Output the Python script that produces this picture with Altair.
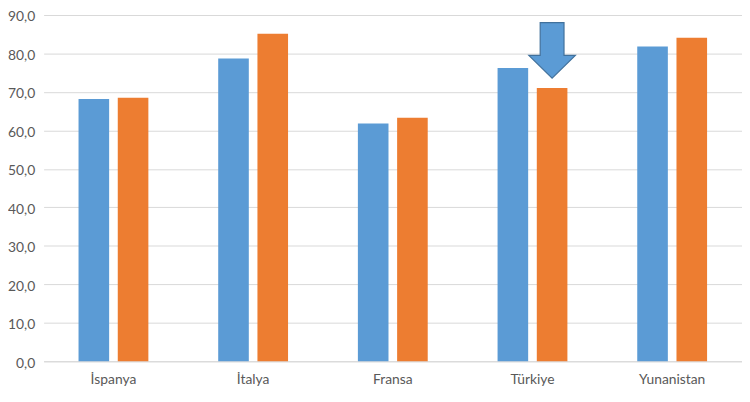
import altair as alt
import pandas as pd

countries = ["İspanya", "İtalya", "Fransa", "Türkiye", "Yunanistan"]
series_names = ["Seri 1", "Seri 2"]
values_1 = [68.2, 78.7, 61.8, 76.2, 81.8]
values_2 = [68.5, 85.1, 63.3, 71.0, 84.1]
colors = ["#5b9bd5", "#ed7d31"]
y_ticks = [0, 10, 20, 30, 40, 50, 60, 70, 80, 90]

# arrow annotation (points at Türkiye, second series)
arrow_country = ["Türkiye"]
arrow_series = ["Seri 2"]
arrow_value = [80.8]

rows = []
for c, a, b in zip(countries, values_1, values_2):
    rows.append({"ulke": c, "seri": series_names[0], "deger": a})
    rows.append({"ulke": c, "seri": series_names[1], "deger": b})
df = pd.DataFrame(rows)
arrow_df = pd.DataFrame({"ulke": arrow_country, "seri": arrow_series, "deger": arrow_value})

FONT = "Lato, Open Sans, sans-serif"

x_enc = alt.X("ulke:N", sort=countries, title=None,
              scale=alt.Scale(paddingInner=0.5, paddingOuter=0.25),
              axis=alt.Axis(labelAngle=0, ticks=False, domainColor="#d9d9d9",
                            labelColor="#595959", labelFontSize=14, labelFont=FONT,
                            labelFontWeight="normal",
                            labelPadding=12, grid=False))
y_enc = alt.Y("deger:Q", title=None,
              scale=alt.Scale(domain=[0, 90], nice=False),
              axis=alt.Axis(values=y_ticks, ticks=False, domain=False,
                            gridColor="#d9d9d9", labelColor="#595959",
                            labelFontSize=14, labelFont=FONT, labelPadding=9,
                            labelOffset=2,
                            labelOverlap=False, labelFontWeight="normal",
                            labelExpr="replace(format(datum.value, '.1f'), '.', ',')"))
xoff = alt.XOffset("seri:N", sort=series_names,
                   scale=alt.Scale(paddingInner=0.22, paddingOuter=0))

bars = alt.Chart(df).mark_bar().encode(
    x=x_enc, y=y_enc, xOffset=xoff,
    color=alt.Color("seri:N", sort=series_names,
                    scale=alt.Scale(domain=series_names, range=colors), legend=None),
)

arrow_path = "M -0.43 -1 L 0.43 -1 L 0.43 0.18 L 0.84 0.18 L 0 1 L -0.84 0.18 L -0.43 0.18 Z"
arrow = alt.Chart(arrow_df).mark_point(
    shape=arrow_path, size=3136, filled=True, fill="#5b9bd5", fillOpacity=1,
    stroke="#41719c", strokeWidth=1.2, opacity=1
).encode(
    x=x_enc, xOffset=xoff, y=y_enc,
)

chart = alt.layer(bars, arrow).properties(
    width=706, height=350, background="white",
    autosize=alt.AutoSizeParams(type="none"),
    padding={"left": 36, "top": 5, "right": 0, "bottom": 30},
).configure_view(stroke=None)

chart.save("out.html", embed_options={"renderer": "svg", "actions": False})
